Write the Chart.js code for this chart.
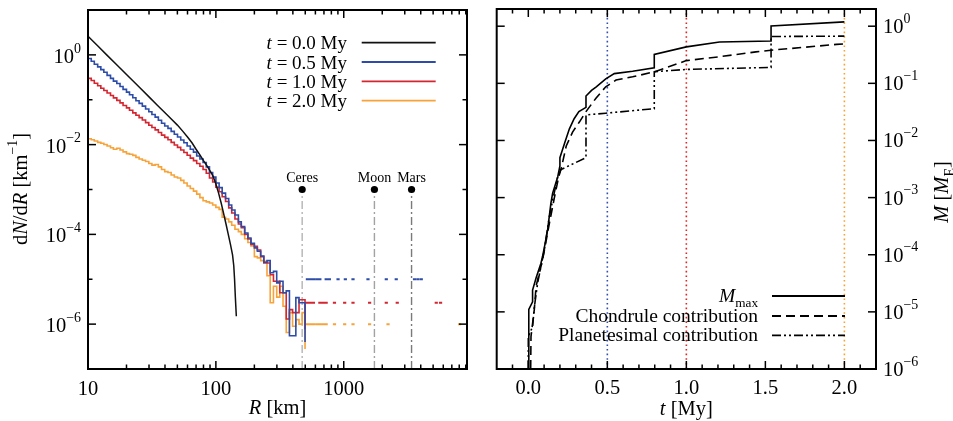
<!DOCTYPE html>
<html>
<head>
<meta charset="utf-8">
<script src="https://cdn.jsdelivr.net/npm/chart.js@4.4.1/dist/chart.umd.min.js"></script>
<style>
  body { margin: 0; background: #fff; }
  #wrap { position: relative; width: 953px; height: 421px; }
  canvas { position: absolute; top: 0; }
</style>
</head>
<body>
<div id="wrap">
  <canvas id="sizeChart" width="480" height="421" style="left:0;width:480px;height:421px"></canvas>
  <canvas id="massChart" width="473" height="421" style="left:480px;width:473px;height:421px"></canvas>
</div>
<script>
// ---- left panel: size distribution dN/dR ----
const binR = [10, 10.6, 11.2, 11.9, 12.6, 13.3, 14.1, 15.0, 15.8, 16.8, 17.8, 18.8, 20.0, 21.1, 22.4, 23.7, 25.1, 26.6, 28.2, 29.9,
    31.6, 33.5, 35.5, 37.6, 39.8, 42.2, 44.7, 47.3, 50.1, 53.1, 56.2, 59.6, 63.1, 66.8, 70.8, 75.0, 79.4, 84.1, 89.1, 94.4,
    100, 106, 112, 119, 126, 133, 141, 150, 158, 168, 178, 188, 200, 211, 224, 237, 251, 266, 282, 299,
    316, 335, 355, 376, 398, 422, 447, 473, 498];

const blueStart = 0.31;
const blueN = [0.83, 0.72, 0.62, 0.54, 0.47, 0.41, 0.35, 0.30, 0.26, 0.23, 0.197, 0.17, 0.148, 0.129, 0.111, 0.095, 0.083, 0.072, 0.062, 0.054,
    0.047, 0.041, 0.035, 0.030, 0.026, 0.023, 0.0197, 0.017, 0.0148, 0.0127, 0.011, 9.3e-3, 7.9e-3, 6.8e-3, 5.6e-3, 4.8e-3, 4.0e-3, 3.2e-3, 2.4e-3, 1.9e-3,
    1.4e-3, 1.1e-3, 8.3e-4, 6.3e-4, 4.5e-4, 3.5e-4, 2.7e-4, 1.9e-4, 1.5e-4, 1.07e-4, 8.3e-5, 6.3e-5, 5e-5, 4.2e-5, 3.3e-5, 2.4e-5, 2.6e-5, 1.4e-5, 1.5e-5, 8.3e-6,
    9e-6, 5e-6, 5.5e-6, 5.5e-7, 5.5e-7, 3.9e-6, 3e-6, 3e-6, 4e-7];

const redStart = 0.095;
const redN = [0.30, 0.268, 0.234, 0.205, 0.18, 0.161, 0.141, 0.124, 0.11, 0.097, 0.085, 0.0745, 0.066, 0.0585, 0.051, 0.045, 0.040, 0.0353, 0.031, 0.0271,
    0.024, 0.0213, 0.0186, 0.0163, 0.0145, 0.0128, 0.0112, 9.8e-3, 8.7e-3, 7.6e-3, 6.7e-3, 5.8e-3, 5.0e-3, 4.4e-3, 3.8e-3, 3.3e-3, 2.8e-3, 2.3e-3, 1.8e-3, 1.47e-3,
    1.12e-3, 8.9e-4, 6.9e-4, 5.4e-4, 3.9e-4, 3.0e-4, 2.2e-4, 1.7e-4, 1.4e-4, 1e-4, 7.9e-5, 6e-5, 5.4e-5, 4.5e-5, 3.2e-5, 2.3e-5, 2.3e-5, 1.26e-5, 9e-6, 9e-6,
    5e-6, 5e-6, 1.3e-6, 2.1e-6, 1.8e-6, 1.8e-6, 3.5e-6, 3.5e-6, 7.7e-7];

const orangeStart = 3.8e-3;
const orangeN = [0.0135, 0.0128, 0.012, 0.0112, 0.0107, 0.0101, 9.3e-3, 8.5e-3, 7.9e-3, 8.3e-3, 7.6e-3, 6.9e-3, 6.3e-3, 6.1e-3, 5.75e-3, 5.2e-3, 4.8e-3, 4.5e-3, 4.2e-3, 3.8e-3,
    3.5e-3, 3.6e-3, 3.2e-3, 2.8e-3, 2.5e-3, 2.4e-3, 2.1e-3, 1.9e-3, 1.8e-3, 1.6e-3, 1.4e-3, 1.2e-3, 1.05e-3, 9.2e-4, 7.9e-4, 6.6e-4, 5.6e-4, 5.3e-4, 5e-4, 4.5e-4,
    4e-4, 3.6e-4, 2.4e-4, 2.2e-4, 1.9e-4, 1.6e-4, 1.3e-4, 1.15e-4, 1e-4, 8e-5, 6.6e-5, 5.5e-5, 3.2e-5, 3e-5, 2.6e-5, 2.5e-5, 1.2e-5, 3e-6, 7e-6, 4e-6,
    7e-6, 2.5e-6, 6.5e-7, 1.8e-6, 9e-7, 1.26e-6, 1e-6, 1.8e-6, 2.8e-7];

// initial distribution (smooth)
const initR = [10, 12, 14, 17, 20, 25, 30, 35, 40, 45, 50, 55, 60, 65, 70, 75, 80, 85, 90, 95, 100, 105, 110, 115, 120, 125, 130, 135, 138, 140, 142, 144.5];
const initN = [2.6, 1.55, 1.0, 0.577, 0.364, 0.194, 0.116, 0.0746, 0.0512, 0.0367, 0.0272, 0.020, 0.0148, 0.011, 7.9e-3, 5.9e-3, 4.4e-3, 3.4e-3, 2.6e-3, 2.0e-3,
    1.32e-3, 8.3e-4, 5e-4, 2.9e-4, 1.7e-4, 1e-4, 6e-5, 3.5e-5, 2e-5, 1e-5, 4e-6, 1.5e-6];

// single bodies in large bins
const dotStep = 1.059;
const blueDotsR = [505, 533, 563, 597, 632, 708, 750, 877, 1000, 1148, 1503, 2090, 2500, 3473, 3690, 3925];
const blueDotN = 1e-5;
const redDotsR = [505, 533, 563, 632, 669, 708, 822, 988, 1148, 1548, 2090, 2546, 5140, 5555];
const redDotN = 3e-6;
const orangeDotsR = [505, 533, 563, 597, 632, 669, 708, 822, 988, 1148, 1548, 2157, 7818];
const orangeDotN = 1e-6;

const planetNames = ['Ceres', 'Moon', 'Mars'];
const planetR = [473, 1737, 3390];
const planetMarkerN = 1e-3;
const planetLineColors = ['#b4b4b4', '#a2a2a2', '#7a7a7a'];

const sizeLabels = ['0.0', '0.5', '1.0', '2.0'];
const sizeColors = ['#111111', '#2c4ca8', '#d42630', '#f6a33a'];

const leftXMajor = [10, 100, 1000];
const leftXMinor = [20, 30, 40, 50, 60, 70, 80, 90, 200, 300, 400, 500, 600, 700, 800, 900, 2000, 3000, 4000, 5000, 6000, 7000, 8000, 9000];
const leftXLabels = ['10', '100', '1000'];
const leftYMajor = [1, 1e-2, 1e-4, 1e-6];
const leftYMinor = [1e-1, 1e-3, 1e-5];
const leftYExp = ['0', '\u22122', '\u22124', '\u22126'];

// ---- right panel: mass growth ----
const mMaxT = [0.0, 0.003, 0.027, 0.027, 0.05, 0.08, 0.09, 0.105, 0.122, 0.143, 0.154, 0.186, 0.2, 0.2, 0.23, 0.26, 0.29, 0.32, 0.365, 0.365, 0.4, 0.43, 0.49, 0.544, 0.66, 0.797, 0.797, 1.0, 1.21, 1.536, 1.536, 2.0];
const mMaxM = [1e-6, 1.1e-5, 1.5e-5, 2.4e-5, 4e-5, 7.1e-5, 9.3e-5, 1.5e-4, 2.7e-4, 8e-4, 1.2e-3, 2.3e-3, 3.6e-3, 5e-3, 9e-3, 0.016, 0.024, 0.032, 0.038, 0.06, 0.075, 0.087, 0.12, 0.148, 0.163, 0.187, 0.32, 0.435, 0.53, 0.55, 1.01, 1.19];

const chondT = [0.015, 0.017, 0.038, 0.049, 0.09, 0.133, 0.165, 0.192, 0.21, 0.24, 0.28, 0.323, 0.365, 0.428, 0.49, 0.555, 0.66, 0.797, 1.0, 1.2, 1.44, 1.536, 1.95, 2.0];
const chondM = [1e-6, 3.7e-6, 1.1e-5, 2.8e-5, 8.1e-5, 3.5e-4, 1e-3, 2.3e-3, 3.4e-3, 8e-3, 0.014, 0.021, 0.032, 0.055, 0.087, 0.114, 0.13, 0.159, 0.25, 0.29, 0.355, 0.38, 0.48, 0.49];

const planT = [0.0, 0.0, 0.027, 0.038, 0.059, 0.101, 0.133, 0.154, 0.186, 0.207, 0.365, 0.365, 0.49, 0.797, 0.797, 1.0, 1.536, 1.536, 2.0];
const planM = [1e-6, 3.7e-6, 5.5e-6, 1.2e-5, 3.2e-5, 1.2e-4, 4.6e-4, 9e-4, 2.3e-3, 3.1e-3, 5e-3, 0.028, 0.030, 0.036, 0.16, 0.175, 0.19, 0.66, 0.67];

const snapshotT = [0.5, 1.0, 2.0];
const snapshotColors = ['#3050b0', '#e02424', '#f8a030'];

const rightXMajor = [0, 0.5, 1, 1.5, 2];
const rightXMinor = [-0.1, 0.1, 0.2, 0.3, 0.4, 0.6, 0.7, 0.8, 0.9, 1.1, 1.2, 1.3, 1.4, 1.6, 1.7, 1.8, 1.9, 2.1];
const rightXLabels = ['0.0', '0.5', '1.0', '1.5', '2.0'];
const rightYMajor = [1, 1e-1, 1e-2, 1e-3, 1e-4, 1e-5, 1e-6];
const rightYExp = ['0', '\u22121', '\u22122', '\u22123', '\u22124', '\u22125', '\u22126'];

const massLegend = ['Chondrule contribution', 'Planetesimal contribution'];
const DASHED = [9, 5];
const DASH_DOT_DOT = [9, 3, 2, 3, 2, 3];

const FONT = '"Liberation Serif", "DejaVu Serif", serif';
const TICK_SIZE = 20.5;
const TITLE_SIZE = 20.5;

function setFont(ctx, size, italic) {
    ctx.font = (italic ? 'italic ' : '') + size + 'px ' + FONT;
}

// parts: [{ t, i, sup, sub }], y is the baseline of the main text
function drawRich(ctx, parts, x, y, size, align) {
    const small = size * 0.68;
    let width = 0;
    parts.forEach((p) => {
        setFont(ctx, p.sup || p.sub ? small : size, p.i);
        width += ctx.measureText(p.t).width;
    });
    let cx = x;
    if (align === 'right') cx = x - width;
    if (align === 'center') cx = x - width / 2;
    ctx.textAlign = 'left';
    ctx.textBaseline = 'alphabetic';
    parts.forEach((p) => {
        setFont(ctx, p.sup || p.sub ? small : size, p.i);
        let dy = 0;
        if (p.sup) dy = -size * 0.5;
        if (p.sub) dy = size * 0.27;
        ctx.fillText(p.t, cx, y + dy);
        cx += ctx.measureText(p.t).width;
    });
}

function line(ctx, x1, y1, x2, y2) {
    ctx.beginPath();
    ctx.moveTo(x1, y1);
    ctx.lineTo(x2, y2);
    ctx.stroke();
}

function drawFrame(chart, xMajor, xMinor, yMajor, yMinor) {
    const { ctx, chartArea: a, scales } = chart;
    ctx.strokeStyle = '#000';
    ctx.lineWidth = 1.5;
    const tick = (axis, values, len) => {
        values.forEach((v) => {
            const p = scales[axis].getPixelForValue(v);
            if (axis === 'x') {
                line(ctx, p, a.bottom, p, a.bottom - len);
                line(ctx, p, a.top, p, a.top + len);
            } else {
                line(ctx, a.left, p, a.left + len, p);
                line(ctx, a.right, p, a.right - len, p);
            }
        });
    };
    tick('x', xMajor, 8);
    tick('x', xMinor, 4.5);
    tick('y', yMajor, 8);
    tick('y', yMinor, 4.5);
    ctx.lineWidth = 2;
    ctx.strokeRect(a.left, a.top, a.right - a.left, a.bottom - a.top);
}

function drawLegendLine(ctx, x1, x2, y, color, dash) {
    ctx.save();
    ctx.strokeStyle = color;
    ctx.lineWidth = 1.8;
    ctx.setLineDash(dash || []);
    line(ctx, x1, y, x2, y);
    ctx.restore();
}

function histPoints(start, values) {
    const pts = [{ x: binR[0], y: start }];
    binR.forEach((r, i) => pts.push({ x: r, y: values[i] }));
    return pts;
}

function dotPoints(rs, level) {
    const pts = [];
    rs.forEach((r) => {
        pts.push({ x: r, y: level }, { x: r * dotStep, y: level }, { x: r * dotStep, y: null });
    });
    return pts;
}

function xyPoints(xs, ys) {
    return xs.map((x, i) => ({ x, y: ys[i] }));
}

const sizeDecor = {
    id: 'sizeDecor',
    afterDraw(chart) {
        const { ctx, chartArea: a, scales } = chart;
        ctx.save();
        ctx.fillStyle = '#000';
        drawFrame(chart, leftXMajor, leftXMinor, leftYMajor, leftYMinor);

        leftXMajor.forEach((v, i) => {
            drawRich(ctx, [{ t: leftXLabels[i] }], scales.x.getPixelForValue(v), a.bottom + 26, TICK_SIZE, 'center');
        });
        leftYMajor.forEach((v, i) => {
            drawRich(ctx, [{ t: '10' }, { t: leftYExp[i], sup: true }], a.left - 7, scales.y.getPixelForValue(v) + 8, TICK_SIZE, 'right');
        });

        drawRich(ctx, [{ t: 'R', i: true }, { t: ' [km]' }], (a.left + a.right) / 2, a.bottom + 45, TITLE_SIZE, 'center');

        ctx.save();
        ctx.translate(27, 189);
        ctx.rotate(-Math.PI / 2);
        drawRich(ctx, [{ t: 'd' }, { t: 'N', i: true }, { t: '/d' }, { t: 'R', i: true }, { t: ' [km' }, { t: '\u22121', sup: true }, { t: ']' }], 0, 0, TITLE_SIZE, 'center');
        ctx.restore();

        planetNames.forEach((name, i) => {
            drawRich(ctx, [{ t: name }], scales.x.getPixelForValue(planetR[i]), scales.y.getPixelForValue(planetMarkerN) - 8, 14, 'center');
        });

        sizeLabels.forEach((label, i) => {
            const y = 42.7 + i * 19.3;
            drawRich(ctx, [{ t: 't', i: true }, { t: ' = ' + label + ' My' }], 347, y + 6.5, 19, 'right');
            drawLegendLine(ctx, 361.7, 435.7, y, sizeColors[i]);
        });
        ctx.restore();
    },
};

const massDecor = {
    id: 'massDecor',
    afterDraw(chart) {
        const { ctx, chartArea: a, scales } = chart;
        ctx.save();
        ctx.fillStyle = '#000';
        drawFrame(chart, rightXMajor, rightXMinor, rightYMajor, []);

        rightXMajor.forEach((v, i) => {
            drawRich(ctx, [{ t: rightXLabels[i] }], scales.x.getPixelForValue(v), a.bottom + 25, TICK_SIZE, 'center');
        });
        rightYMajor.forEach((v, i) => {
            drawRich(ctx, [{ t: '10' }, { t: rightYExp[i], sup: true }], a.right + 7, scales.y.getPixelForValue(v) + 7, TICK_SIZE, 'left');
        });

        drawRich(ctx, [{ t: 't', i: true }, { t: ' [My]' }], (a.left + a.right) / 2, a.bottom + 46, TITLE_SIZE, 'center');

        ctx.save();
        ctx.translate(468, 192);
        ctx.rotate(-Math.PI / 2);
        drawRich(ctx, [{ t: 'M', i: true }, { t: ' [' }, { t: 'M', i: true }, { t: 'E', sub: true }, { t: ']' }], 0, 0, TITLE_SIZE, 'center');
        ctx.restore();

        const lx = 278;
        drawRich(ctx, [{ t: 'M', i: true }, { t: 'max', sub: true }], lx, 302, 19.5, 'right');
        drawLegendLine(ctx, 292, 365, 296, '#000');
        drawRich(ctx, [{ t: massLegend[0] }], lx, 322, 19.5, 'right');
        drawLegendLine(ctx, 292, 365, 316, '#000', DASHED);
        drawRich(ctx, [{ t: massLegend[1] }], lx, 341, 19.5, 'right');
        drawLegendLine(ctx, 292, 365, 335.3, '#000', DASH_DOT_DOT);
        ctx.restore();
    },
};

const baseLine = { pointRadius: 0, fill: false, tension: 0, spanGaps: false };

const sizeDatasets = [
    { ...baseLine, data: xyPoints(initR, initN), borderColor: sizeColors[0], borderWidth: 1.5 },
    { ...baseLine, data: histPoints(blueStart, blueN), borderColor: sizeColors[1], borderWidth: 1.6, stepped: true },
    { ...baseLine, data: histPoints(redStart, redN), borderColor: sizeColors[2], borderWidth: 1.6, stepped: true },
    { ...baseLine, data: histPoints(orangeStart, orangeN), borderColor: sizeColors[3], borderWidth: 1.6, stepped: true },
    { ...baseLine, data: dotPoints(blueDotsR, blueDotN), borderColor: sizeColors[1], borderWidth: 2 },
    { ...baseLine, data: dotPoints(redDotsR, redDotN), borderColor: sizeColors[2], borderWidth: 2 },
    { ...baseLine, data: dotPoints(orangeDotsR, orangeDotN), borderColor: sizeColors[3], borderWidth: 2 },
];

planetR.forEach((r, i) => {
    sizeDatasets.push({
        ...baseLine,
        data: [{ x: r, y: 1e-7 }, { x: r, y: planetMarkerN }],
        borderColor: planetLineColors[i],
        borderWidth: 1.4,
        borderDash: [8, 3, 2, 3],
        order: 2,
    });
});
sizeDatasets.push({
    type: 'scatter',
    data: planetR.map((r) => ({ x: r, y: planetMarkerN })),
    pointRadius: 3.6,
    pointBackgroundColor: '#000',
    pointBorderWidth: 0,
    showLine: false,
});

new Chart(document.getElementById('sizeChart'), {
    type: 'line',
    data: { datasets: sizeDatasets },
    options: {
        responsive: false,
        animation: false,
        layout: { padding: { left: 88, right: 13, top: 10, bottom: 52 } },
        scales: {
            x: { type: 'logarithmic', min: 10, max: 9200, display: false },
            y: { type: 'logarithmic', min: 1e-7, max: 10, display: false },
        },
        plugins: { legend: { display: false }, tooltip: { enabled: false } },
    },
    plugins: [sizeDecor],
});

const massDatasets = [
    { ...baseLine, data: xyPoints(mMaxT, mMaxM), borderColor: '#000', borderWidth: 1.6 },
    { ...baseLine, data: xyPoints(chondT, chondM), borderColor: '#000', borderWidth: 1.6, borderDash: DASHED },
    { ...baseLine, data: xyPoints(planT, planM), borderColor: '#000', borderWidth: 1.6, borderDash: DASH_DOT_DOT },
];
snapshotT.forEach((t, i) => {
    massDatasets.push({
        ...baseLine,
        data: [{ x: t, y: 1e-6 }, { x: t, y: 2 }],
        borderColor: snapshotColors[i],
        borderWidth: 1.6,
        borderDash: [1.6, 3],
        order: 2,
    });
});

new Chart(document.getElementById('massChart'), {
    type: 'line',
    data: { datasets: massDatasets },
    options: {
        responsive: false,
        animation: false,
        layout: { padding: { left: 16.7, right: 77, top: 9, bottom: 52 } },
        scales: {
            x: { type: 'linear', min: -0.2, max: 2.2, display: false },
            y: { type: 'logarithmic', min: 1e-6, max: 2, display: false },
        },
        plugins: { legend: { display: false }, tooltip: { enabled: false } },
    },
    plugins: [massDecor],
});
</script>
</body>
</html>
